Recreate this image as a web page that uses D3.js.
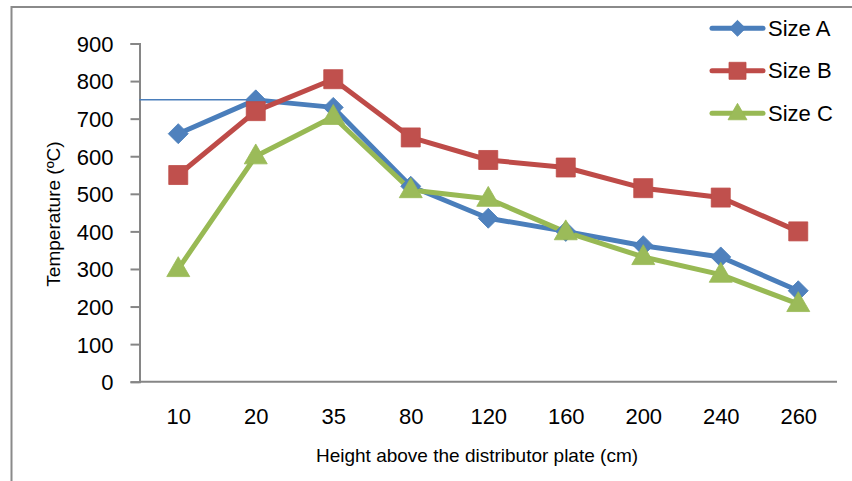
<!DOCTYPE html>
<html lang="en">
<head>
<meta charset="utf-8">
<script src="https://d3js.org/d3.v7.min.js"></script>
<style>
  body { margin: 0; background: #fff; }
  text { font-family: "Liberation Sans", Arial, sans-serif; fill: #000; }
</style>
</head>
<body>
<div id="chart"></div>
<script>
// values
var heights = ["10", "20", "35", "80", "120", "160", "200", "240", "260"];
var sizeA = [660, 750, 730, 520, 435, 400, 362, 332, 242];
var sizeB = [550, 720, 805, 650, 590, 570, 515, 490, 400];
var sizeC = [300, 600, 705, 510, 487, 398, 332, 285, 207];
var yTicks = [0, 100, 200, 300, 400, 500, 600, 700, 800, 900];
var seriesNames = ["Size A", "Size B", "Size C"];
var refValue = 750; // thin guide line from the axis to the 20 cm point

var W = 852, H = 481;
var svg = d3.select("#chart").append("svg")
    .attr("width", W)
    .attr("height", H);

// outer chart border (only top and left visible)
svg.append("rect")
    .attr("x", 11.5).attr("y", 7)
    .attr("width", W + 20).attr("height", H + 20)
    .attr("fill", "none")
    .attr("stroke", "#8a8a8a")
    .attr("stroke-width", 2);

var x = d3.scalePoint()
    .domain(heights)
    .range([139.5, 837])
    .padding(0.5);

var y = d3.scaleLinear()
    .domain([0, 900])
    .range([381.7, 43.5]);

// y axis
var yAxis = svg.append("g")
    .attr("transform", "translate(139.5,0)")
    .call(d3.axisLeft(y).tickValues(yTicks).tickSize(9).tickPadding(17));
yAxis.select(".domain").attr("stroke", "#868686").attr("stroke-width", 2);
yAxis.selectAll(".tick line").attr("stroke", "#868686").attr("stroke-width", 2);
yAxis.selectAll(".tick text")
    .attr("font-size", "22px")
    .attr("font-family", "Liberation Sans, Arial, sans-serif")
    .attr("fill", "#000")
    .attr("dy", "0.36em");

// x axis
var xAxis = svg.append("g")
    .attr("transform", "translate(0,381.7)")
    .call(d3.axisBottom(x).tickSize(0).tickPadding(27));
xAxis.select(".domain")
    .attr("d", "M139.5,0H837")
    .attr("stroke", "#868686").attr("stroke-width", 2);
xAxis.selectAll(".tick text")
    .attr("font-size", "22px")
    .attr("font-family", "Liberation Sans, Arial, sans-serif")
    .attr("fill", "#000")
    .attr("dy", "0.71em");

// axis titles
svg.append("text")
    .attr("x", 477)
    .attr("y", 462)
    .attr("text-anchor", "middle")
    .style("font-size", "19px")
    .text("Height above the distributor plate (cm)");

svg.append("text")
    .attr("transform", "translate(59.5,214) rotate(-90)")
    .attr("text-anchor", "middle")
    .style("font-size", "19px")
    .text("Temperature (\u00baC)");

// series
var series = [
  { name: seriesNames[0], values: sizeA, line: "#4a7ebb", fill: "#4f81bd", shape: "diamond" },
  { name: seriesNames[1], values: sizeB, line: "#be4b48", fill: "#c0504d", shape: "square" },
  { name: seriesNames[2], values: sizeC, line: "#98b954", fill: "#9bbb59", shape: "triangle" }
];

function markerPath(shape, s) {
  if (shape === "diamond") return d3.symbol(d3.symbolSquare, s * s / 2)();
  if (shape === "square") return d3.symbol(d3.symbolSquare, s * s)();
  return d3.symbol(d3.symbolTriangle, Math.sqrt(3) / 4 * s * s)();
}
function markerTransform(shape, px, py) {
  if (shape === "diamond") return "translate(" + px + "," + py + ") rotate(45)";
  if (shape === "triangle") return "translate(" + px + "," + (py + 1) + ")";
  return "translate(" + px + "," + py + ")";
}

// thin horizontal reference line at 750
svg.append("line")
    .attr("x1", 139.5).attr("x2", x("20"))
    .attr("y1", y(refValue)).attr("y2", y(refValue))
    .attr("stroke", "#4a7ebb")
    .attr("stroke-width", 1.5);

var line = d3.line()
    .x(function(d, i) { return x(heights[i]); })
    .y(function(d) { return y(d); });

series.forEach(function(s) {
  svg.append("path")
      .datum(s.values)
      .attr("fill", "none")
      .attr("stroke", s.line)
      .attr("stroke-width", 5)
      .attr("stroke-linejoin", "round")
      .attr("d", line);
});

var markerSize = { diamond: 20, square: 19, triangle: 23 };
series.forEach(function(s) {
  svg.append("g").selectAll("path")
    .data(s.values)
    .enter().append("path")
      .attr("d", markerPath(s.shape, markerSize[s.shape]))
      .attr("transform", function(d, i) { return markerTransform(s.shape, x(heights[i]), y(d)); })
      .attr("fill", s.fill)
      .attr("stroke", s.line)
      .attr("stroke-width", 0.8);
});

// legend
var legend = svg.append("g");
var legendMarker = { diamond: 16, square: 17, triangle: 19 };
series.forEach(function(s, i) {
  var ly = 28.3 + i * 42.5;
  legend.append("line")
      .attr("x1", 712).attr("x2", 763)
      .attr("y1", ly).attr("y2", ly)
      .attr("stroke", s.line)
      .attr("stroke-width", 5)
      .attr("stroke-linecap", "round");
  legend.append("path")
      .attr("d", markerPath(s.shape, legendMarker[s.shape]))
      .attr("transform", markerTransform(s.shape, 737.5, ly))
      .attr("fill", s.fill)
      .attr("stroke", s.line)
      .attr("stroke-width", 0.8);
  legend.append("text")
      .attr("x", 768)
      .attr("y", ly + 7.5)
      .style("font-size", "22px")
      .text(s.name);
});
</script>
</body>
</html>
